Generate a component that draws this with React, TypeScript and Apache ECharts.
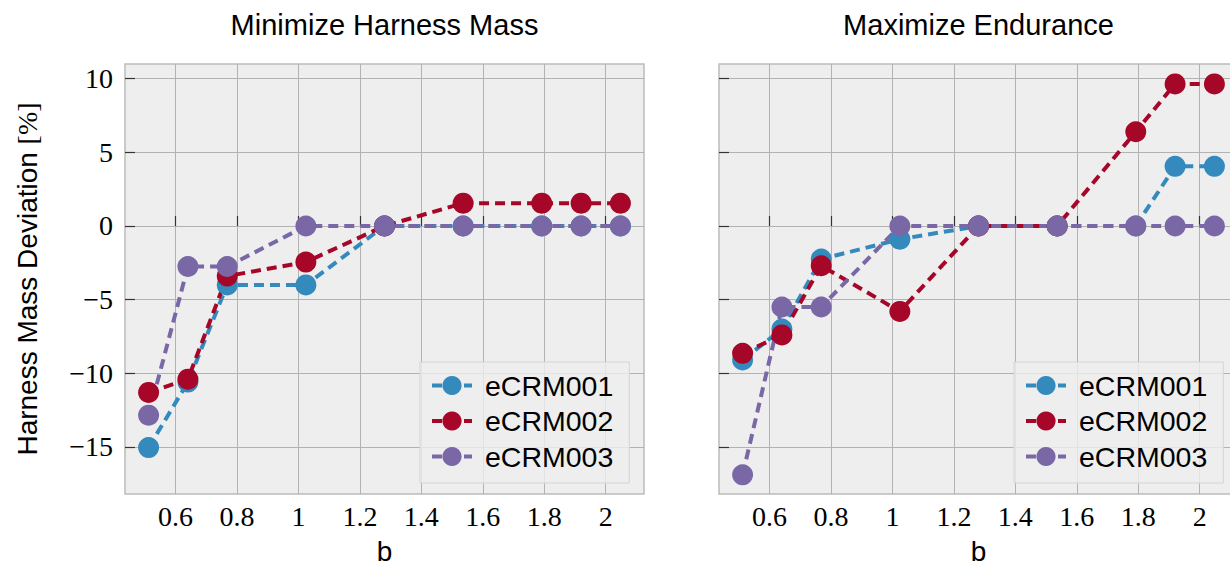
import React, { useEffect, useRef } from "react";
import * as echarts from "echarts";

// Design variable b, shared by both studies
const bValues = [0.512, 0.64, 0.768, 1.024, 1.28, 1.536, 1.792, 1.92, 2.048];

const seriesNames = ["eCRM001", "eCRM002", "eCRM003"];
const seriesColors = ["#348ABD", "#A60628", "#7A68A6"];

// Harness mass deviation [%] – "Minimize Harness Mass" study
const massCRM001 = [-15.05, -10.6, -4.0, -4.0, 0, 0, 0, 0, 0];
const massCRM002 = [-11.3, -10.4, -3.4, -2.45, 0, 1.55, 1.55, 1.55, 1.55];
const massCRM003 = [-12.85, -2.75, -2.75, 0, 0, 0, 0, 0, 0];

// Harness mass deviation [%] – "Maximize Endurance" study
const enduranceCRM001 = [-9.1, -7.0, -2.25, -0.9, 0, 0, 0, 4.05, 4.05];
const enduranceCRM002 = [-8.65, -7.4, -2.7, -5.8, 0, 0, 6.4, 9.65, 9.65];
const enduranceCRM003 = [-16.9, -5.5, -5.5, 0, 0, 0, 0, 0, 0];

const xTicks = [0.6, 0.8, 1, 1.2, 1.4, 1.6, 1.8, 2];
const yTicks = [-15, -10, -5, 0, 5, 10];
const panelTitles = ["Minimize Harness Mass", "Maximize Endurance"];

const panels = [
  [massCRM001, massCRM002, massCRM003],
  [enduranceCRM001, enduranceCRM002, enduranceCRM003],
];

const X_MIN = 0.4352;
const X_MAX = 2.1248;
const Y_MIN = -18.2;
const Y_MAX = 11.0;

const GRID_LEFT = [125, 719];
const GRID_TOP = 64;
const GRID_W = 519;
const GRID_H = 430;

const SANS = "Liberation Sans";
const SERIF = "Liberation Serif";

function tickText(v: number): string {
  return v < 0 ? "\u2212" + Math.abs(v) : String(v);
}

function buildOption() {
  const grids = GRID_LEFT.map((left) => ({
    left,
    top: GRID_TOP,
    width: GRID_W,
    height: GRID_H,
    show: true,
    backgroundColor: "#eeeeee",
    borderColor: "#bcbcbc",
    borderWidth: 1.5,
    containLabel: false,
    outerBoundsMode: "none",
  }));

  const tickLine = { color: "#333333", width: 1.2 };
  const gridLine = { color: "#b2b2b2", width: 1 };

  const xAxes = GRID_LEFT.map((_, i) => ({
    gridIndex: i,
    type: "value",
    min: X_MIN,
    max: X_MAX,
    name: "b",
    nameLocation: "middle",
    nameGap: 44,
    nameTextStyle: { fontFamily: SANS, fontSize: 28, lineHeight: 26, color: "#000" },
    axisLine: { show: false },
    axisTick: { show: true, inside: true, length: 10, customValues: xTicks, lineStyle: tickLine },
    axisLabel: {
      show: true,
      customValues: xTicks,
      formatter: (v: number) => tickText(v),
      fontFamily: SERIF,
      fontSize: 28,
      color: "#000",
      margin: 8,
    },
    splitLine: { show: true, lineStyle: gridLine },
  }));

  const yAxes = GRID_LEFT.map((_, i) => ({
    gridIndex: i,
    type: "value",
    min: Y_MIN,
    max: Y_MAX,
    name: i === 0 ? "{a|Harness Mass Deviation }{b|[%]}" : "",
    nameLocation: "middle",
    nameRotate: 90,
    nameGap: 84,
    nameTextStyle: {
      rich: {
        a: { fontFamily: SANS, fontSize: 28, color: "#000" },
        b: { fontFamily: SERIF, fontSize: 28, color: "#000" },
      },
    },
    axisLine: { show: false },
    axisTick: { show: true, inside: true, length: 10, customValues: yTicks, lineStyle: tickLine },
    axisLabel: {
      show: i === 0,
      customValues: yTicks,
      formatter: (v: number) => tickText(v),
      fontFamily: SERIF,
      fontSize: 28,
      color: "#000",
      margin: 12,
    },
    splitLine: { show: true, lineStyle: gridLine },
  }));

  const series: any[] = [];
  panels.forEach((panel, p) => {
    panel.forEach((vals, s) => {
      series.push({
        name: seriesNames[s],
        type: "line",
        xAxisIndex: p,
        yAxisIndex: p,
        data: bValues.map((b, k) => [b, vals[k]]),
        symbol: "circle",
        symbolSize: 21,
        showSymbol: true,
        clip: false,
        lineStyle: { type: [10, 6], width: 4, color: seriesColors[s] },
        itemStyle: { color: seriesColors[s] },
        emphasis: { disabled: true },
      });
    });
  });

  const legends = GRID_LEFT.map((left) => ({
    left: left + 295,
    top: 362,
    orient: "vertical",
    data: seriesNames,
    selectedMode: false,
    itemWidth: 40,
    itemHeight: 24,
    itemGap: 6.5,
    padding: [9, 16, 12, 10],
    backgroundColor: "rgba(238,238,238,0.8)",
    borderColor: "#d4d4d4",
    borderWidth: 1,
    borderRadius: 0,
    lineStyle: { width: 4 },
    textStyle: { fontFamily: SANS, fontSize: 28.5, color: "#000", padding: [0, 0, 0, 8] },
  }));

  const titles = panelTitles.map((text, i) => ({
    text,
    left: GRID_LEFT[i] + GRID_W / 2,
    textAlign: "center",
    top: 10,
    padding: 0,
    textStyle: { fontFamily: SANS, fontSize: 29, fontWeight: "normal", color: "#000" },
  }));

  return {
    animation: false,
    backgroundColor: "#ffffff",
    title: titles,
    grid: grids,
    xAxis: xAxes,
    yAxis: yAxes,
    legend: legends,
    series,
  };
}

export default function App() {
  const ref = useRef<HTMLDivElement>(null);

  useEffect(() => {
    document.body.style.margin = "0";
    if (!ref.current) return;
    const chart = echarts.init(ref.current, undefined, { renderer: "svg" });
    chart.setOption(buildOption() as any);
    return () => chart.dispose();
  }, []);

  return <div ref={ref} style={{ width: 1230, height: 567, position: "absolute", left: 0, top: 0 }} />;
}
